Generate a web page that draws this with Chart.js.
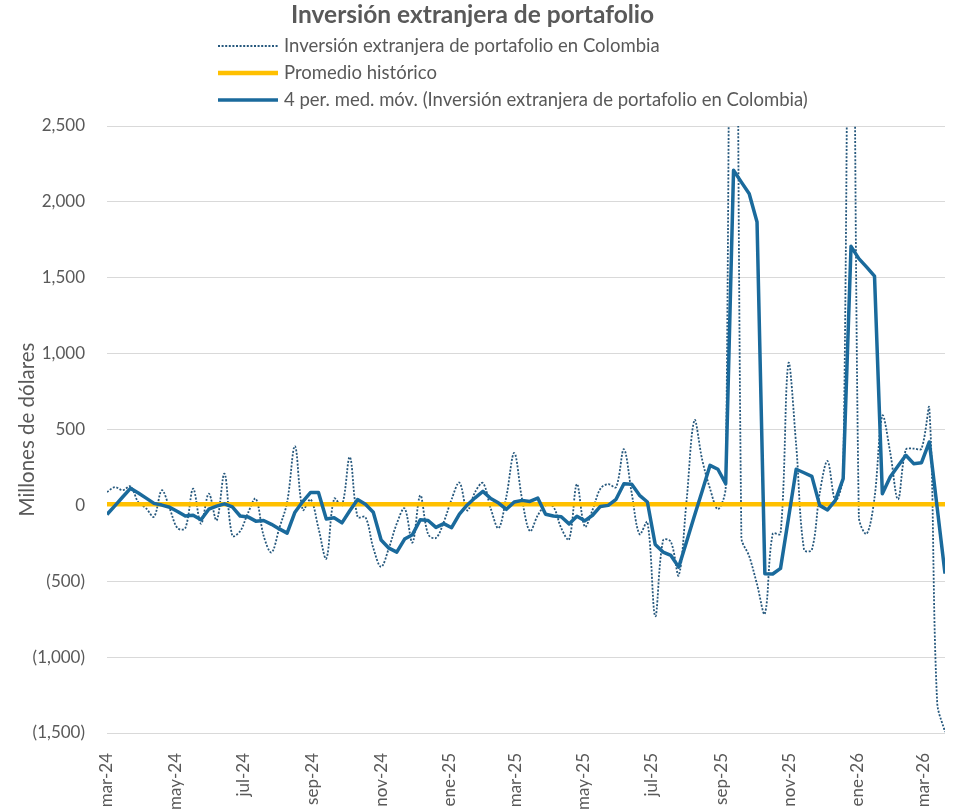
<!DOCTYPE html>
<html>
<head>
<meta charset="utf-8">
<title>Inversión extranjera de portafolio</title>
<script src="https://cdn.jsdelivr.net/npm/chart.js@4.4.1/dist/chart.umd.min.js"></script>
<style>
    html, body { margin: 0; padding: 0; background: #ffffff; }
    #wrap { position: relative; width: 957px; height: 809px; }
</style>
</head>
<body>
<div id="wrap"><canvas id="portfolioChart"></canvas></div>
<script>
// ========= Data (weekly, millones de dólares) =========
const firstWeek = [2024, 2, 1]; // first weekly observation: 1 mar 2024

const tickLabels = ["mar-24", "may-24", "jul-24", "sep-24", "nov-24", "ene-25", "mar-25",
    "may-25", "jul-25", "sep-25", "nov-25", "ene-26", "mar-26"];

const inversionSemanal = [
    88, 120, 100, 125, 20, -20, -75, 99, -20, -150,
    -150, 110, -121, 77, -99, 209, -200, -170, -50, 44,
    -200, -310, -150, 20, 390, -30, 40, -150, -350, 44,
    0, 318, -77, -77, -280, -405, -280, -120, -20, -245,
    66, -190, -215, -110, 40, 150, -33, 88, 147, -22,
    -150, 60, 345, 40, -170, -66, 0, -10, -150, -225,
    140, -140, -30, 110, 140, 120, 370, 80, -190, -110,
    -730, -231, -240, -461, 30, 560, 300, 110, -25, 120,
    8600, -210, -335, -520, -714, -187, -187, 934, 395, -292,
    -292, 80, 292, 33, 200, 6270, -77, -187, 50, 590,
    350, 40, 367, 374, 374, 638, -1298, -1494
];

const mediaMovil4 = [
    -60, -3, 55, 112, 82, 48, 13, 2, -12, -40,
    -70, -65, -95, -25, -5, 10, -10, -70, -76, -104,
    -100, -125, -155, -183, -45, 25, 85, 85, -90, -82,
    -115, -35, 38, 8, -45, -228, -282, -308, -222, -193,
    -95, -100, -145, -120, -147, -57, 3, 50, 92, 45,
    15, -26, 22, 33, 26, 48, -58, -70, -75, -122,
    -72, -102, -65, -7, 0, 40, 143, 140, 66, 22,
    -258, -308, -330, -407, -240, -70, 95, 264, 238, 143,
    2208, 2130, 2054, 1867, -450, -452, -415, -90, 238, 215,
    191, 0, -30, 33, 176, 1707, 1626, 1570, 1511, 77,
    187, 260, 330, 275, 281, 418, -15, -450
];

const promedioHistorico = 8;

// ========= Helpers =========
const DAY = 86400000;
const startUTC = Date.UTC(firstWeek[0], firstWeek[1], firstWeek[2]);
const monthIdx = { ene: 0, feb: 1, mar: 2, abr: 3, may: 4, jun: 5, jul: 6, ago: 7, sep: 8, oct: 9, nov: 10, dic: 11 };

// day offset of the first of each labelled month
const tickDays = tickLabels.map((lbl) => {
    const [m, yy] = lbl.split("-");
    return (Date.UTC(2000 + Number(yy), monthIdx[m], 1) - startUTC) / DAY;
});

const toPoints = (arr) => arr.map((v, i) => ({ x: i * 7, y: v }));
const lastDay = (inversionSemanal.length - 1) * 7;

function fmtMillones(v) {
    const s = Math.abs(v).toLocaleString("en-US");
    return v < 0 ? "(" + s + ")" : s;
}

const gray = "#595959";
const fontFamily = "Lato, 'Open Sans', sans-serif";

Chart.defaults.font.family = fontFamily;
Chart.defaults.color = gray;

// ========= Stacked legend (one entry per row) =========
const legendRows = {
    id: "legendRows",
    afterDraw(chart) {
        const { ctx } = chart;
        ctx.save();
        chart.data.datasets.forEach((ds, k) => {
            const y = 46 + k * 27;
            ctx.beginPath();
            ctx.setLineDash(ds.borderDash || []);
            ctx.lineWidth = ds.borderWidth;
            ctx.strokeStyle = ds.borderColor;
            ctx.moveTo(218, y);
            ctx.lineTo(278, y);
            ctx.stroke();
            ctx.setLineDash([]);
            ctx.fillStyle = gray;
            ctx.font = "18.5px " + fontFamily;
            ctx.textBaseline = "middle";
            ctx.textAlign = "left";
            ctx.fillText(ds.label, 284, y);
        });
        ctx.restore();
    },
};

// ========= Chart =========
new Chart(document.getElementById("portfolioChart"), {
    type: "line",
    data: {
        datasets: [
            {
                label: "Inversión extranjera de portafolio en Colombia",
                data: toPoints(inversionSemanal),
                borderColor: "#26587d",
                borderWidth: 1.8,
                borderDash: [2, 1.6],
                tension: 0.35,
                pointRadius: 0,
                order: 3,
            },
            {
                label: "Promedio histórico",
                data: [{ x: 0, y: promedioHistorico }, { x: lastDay, y: promedioHistorico }],
                borderColor: "#FFC000",
                borderWidth: 4.5,
                pointRadius: 0,
                order: 2,
            },
            {
                label: "4 per. med. móv. (Inversión extranjera de portafolio en Colombia)",
                data: toPoints(mediaMovil4),
                borderColor: "#1a6a9c",
                borderWidth: 3.5,
                borderJoinStyle: "round",
                tension: 0,
                pointRadius: 0,
                order: 1,
            },
        ],
    },
    options: {
        responsive: true,
        maintainAspectRatio: false,
        animation: false,
        layout: { padding: { left: 0, right: 12, top: 0, bottom: 0 } },
        plugins: {
            legend: { display: false },
            tooltip: { enabled: false },
            title: {
                display: true,
                text: "Inversión extranjera de portafolio",
                color: gray,
                font: { size: 24.5, weight: "bold" },
                padding: { top: 0, bottom: 96.6 },
            },
        },
        scales: {
            x: {
                type: "linear",
                min: 0,
                max: lastDay,
                grid: { display: false },
                border: { display: false },
                afterBuildTicks: (axis) => {
                    axis.ticks = tickDays.map((d) => ({ value: d }));
                },
                afterFit: (axis) => {
                    axis.height = 76;
                },
                ticks: {
                    autoSkip: false,
                    minRotation: 90,
                    maxRotation: 90,
                    padding: 12,
                    font: { size: 17 },
                    callback: (v, i) => tickLabels[i],
                },
            },
            y: {
                min: -1500,
                max: 2500,
                ticks: {
                    stepSize: 500,
                    padding: 22,
                    font: { size: 17 },
                    callback: (v) => fmtMillones(v),
                },
                grid: { color: "#d9d9d9", lineWidth: 1, drawTicks: false },
                border: { display: false },
                title: {
                    display: true,
                    text: "Millones de dólares",
                    font: { size: 20.5 },
                    padding: { top: 15 },
                },
                afterFit: (axis) => {
                    axis.width = 107;
                },
            },
        },
    },
    plugins: [legendRows],
});
</script>
</body>
</html>
